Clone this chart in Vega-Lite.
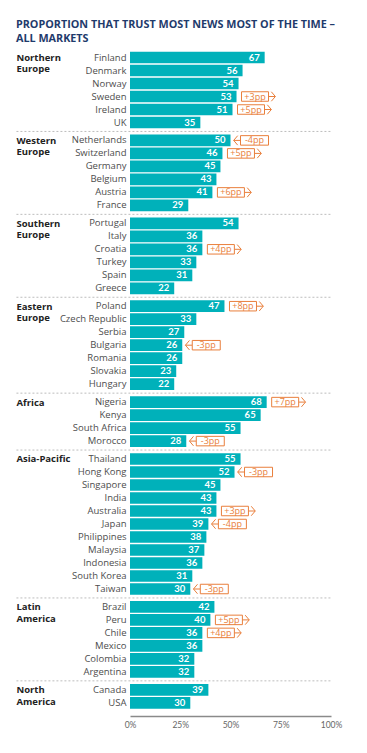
{
  "$schema": "https://vega.github.io/schema/vega-lite/v6.json",
  "padding": {"top": 19, "left": 15, "right": 5, "bottom": 5},
  "background": "white",
  "title": {
    "text": ["PROPORTION THAT TRUST MOST NEWS MOST OF THE TIME –", "ALL MARKETS"],
    "anchor": "start",
    "frame": "bounds",
    "font": "Open Sans",
    "fontSize": 10.8,
    "fontWeight": "bold",
    "color": "#1f3b6c",
    "lineHeight": 13.5,
    "offset": 7.5
  },
  "data": {
    "values": [
      {"region": "Northern Europe", "country": "Finland", "value": 67, "change": null},
      {"region": "Northern Europe", "country": "Denmark", "value": 56, "change": null},
      {"region": "Northern Europe", "country": "Norway", "value": 54, "change": null},
      {"region": "Northern Europe", "country": "Sweden", "value": 53, "change": 3},
      {"region": "Northern Europe", "country": "Ireland", "value": 51, "change": 5},
      {"region": "Northern Europe", "country": "UK", "value": 35, "change": null},
      {"region": "Western Europe", "country": "Netherlands", "value": 50, "change": -4},
      {"region": "Western Europe", "country": "Switzerland", "value": 46, "change": 5},
      {"region": "Western Europe", "country": "Germany", "value": 45, "change": null},
      {"region": "Western Europe", "country": "Belgium", "value": 43, "change": null},
      {"region": "Western Europe", "country": "Austria", "value": 41, "change": 6},
      {"region": "Western Europe", "country": "France", "value": 29, "change": null},
      {"region": "Southern Europe", "country": "Portugal", "value": 54, "change": null},
      {"region": "Southern Europe", "country": "Italy", "value": 36, "change": null},
      {"region": "Southern Europe", "country": "Croatia", "value": 36, "change": 4},
      {"region": "Southern Europe", "country": "Turkey", "value": 33, "change": null},
      {"region": "Southern Europe", "country": "Spain", "value": 31, "change": null},
      {"region": "Southern Europe", "country": "Greece", "value": 22, "change": null},
      {"region": "Eastern Europe", "country": "Poland", "value": 47, "change": 8},
      {"region": "Eastern Europe", "country": "Czech Republic", "value": 33, "change": null},
      {"region": "Eastern Europe", "country": "Serbia", "value": 27, "change": null},
      {"region": "Eastern Europe", "country": "Bulgaria", "value": 26, "change": -3},
      {"region": "Eastern Europe", "country": "Romania", "value": 26, "change": null},
      {"region": "Eastern Europe", "country": "Slovakia", "value": 23, "change": null},
      {"region": "Eastern Europe", "country": "Hungary", "value": 22, "change": null},
      {"region": "Africa", "country": "Nigeria", "value": 68, "change": 7},
      {"region": "Africa", "country": "Kenya", "value": 65, "change": null},
      {"region": "Africa", "country": "South Africa", "value": 55, "change": null},
      {"region": "Africa", "country": "Morocco", "value": 28, "change": -3},
      {"region": "Asia-Pacific", "country": "Thailand", "value": 55, "change": null},
      {"region": "Asia-Pacific", "country": "Hong Kong", "value": 52, "change": -3},
      {"region": "Asia-Pacific", "country": "Singapore", "value": 45, "change": null},
      {"region": "Asia-Pacific", "country": "India", "value": 43, "change": null},
      {"region": "Asia-Pacific", "country": "Australia", "value": 43, "change": 3},
      {"region": "Asia-Pacific", "country": "Japan", "value": 39, "change": -4},
      {"region": "Asia-Pacific", "country": "Philippines", "value": 38, "change": null},
      {"region": "Asia-Pacific", "country": "Malaysia", "value": 37, "change": null},
      {"region": "Asia-Pacific", "country": "Indonesia", "value": 36, "change": null},
      {"region": "Asia-Pacific", "country": "South Korea", "value": 31, "change": null},
      {"region": "Asia-Pacific", "country": "Taiwan", "value": 30, "change": -3},
      {"region": "Latin America", "country": "Brazil", "value": 42, "change": null},
      {"region": "Latin America", "country": "Peru", "value": 40, "change": 5},
      {"region": "Latin America", "country": "Chile", "value": 36, "change": 4},
      {"region": "Latin America", "country": "Mexico", "value": 36, "change": null},
      {"region": "Latin America", "country": "Colombia", "value": 32, "change": null},
      {"region": "Latin America", "country": "Argentina", "value": 32, "change": null},
      {"region": "North America", "country": "Canada", "value": 39, "change": null},
      {"region": "North America", "country": "USA", "value": 30, "change": null}
    ]
  },
  "facet": {
    "row": {
      "field": "region",
      "type": "nominal",
      "sort": ["Northern Europe", "Western Europe", "Southern Europe", "Eastern Europe", "Africa", "Asia-Pacific", "Latin America", "North America"],
      "header": {"labels": false, "title": null}
    }
  },
  "spacing": 4.9,
  "bounds": "flush",
  "resolve": {"scale": {"y": "independent"}},
  "spec": {
    "width": 201,
    "height": {"step": 13.0},
    "encoding": {
      "y": {
        "field": "country",
        "type": "nominal",
        "sort": null,
        "title": null,
        "scale": {"paddingInner": 0.1, "paddingOuter": 0.05},
        "axis": {
          "domain": false,
          "ticks": false,
          "labelFont": "Open Sans",
          "labelFontSize": 9.5,
          "labelColor": "#4d4d4d",
          "labelPadding": 4,
          "labelLimit": 0
        }
      }
    },
    "layer": [
      {
        "mark": {"type": "bar", "color": "#00b1ba"},
        "encoding": {
          "x": {
            "field": "value",
            "type": "quantitative",
            "scale": {"domain": [0, 100], "nice": false},
            "axis": {
              "values": [0, 25, 50, 75, 100],
              "labelExpr": "datum.value + '%'",
              "title": null,
              "grid": false,
              "ticks": false,
              "labelFlush": false,
              "domainColor": "#8a8a8a",
              "domainWidth": 1.5,
              "labelColor": "#666666",
              "labelFont": "Lato",
              "labelFontSize": 8.5,
              "labelPadding": 4,
              "offset": 6
            }
          }
        }
      },
      {
        "mark": {"type": "text", "align": "right", "baseline": "middle", "dx": -5, "color": "white", "font": "Lato", "fontWeight": "bold", "fontSize": 9.5},
        "encoding": {
          "x": {"field": "value", "type": "quantitative"},
          "text": {"field": "value", "type": "quantitative"}
        }
      },
      {
        "transform": [
          {"window": [{"op": "row_number", "as": "rn"}], "groupby": ["region"]},
          {"filter": "datum.rn == 1 && datum.region != 'Northern Europe'"}
        ],
        "mark": {"type": "rule", "color": "#bdbdbd", "strokeDash": [2, 2], "strokeWidth": 1, "yOffset": -3.1},
        "encoding": {
          "y": {"field": "country", "type": "nominal", "sort": null, "bandPosition": 0},
          "x": {"datum": -56.5},
          "x2": {"datum": 100.7}
        }
      },
      {
        "transform": [
          {"window": [{"op": "row_number", "as": "rn"}], "groupby": ["region"]},
          {"filter": "datum.rn == 1"}
        ],
        "mark": {"type": "text", "align": "left", "baseline": "alphabetic", "yOffset": 3.4, "lineBreak": " ", "lineHeight": 11.5, "font": "Open Sans", "fontWeight": "bold", "fontSize": 9.5, "color": "#222222"},
        "encoding": {
          "x": {"datum": -56.5},
          "text": {"field": "region", "type": "nominal"}
        }
      },
      {
        "transform": [
          {"filter": "datum.change != null && datum.change > 0"},
          {"calculate": "'+' + datum.change + 'pp'", "as": "label"}
        ],
        "layer": [
          {
            "mark": {"type": "bar", "fill": "white", "stroke": "#e97f3c", "strokeWidth": 1, "size": 9.5, "xOffset": 5, "x2Offset": 32},
            "encoding": {
              "x": {"field": "value", "type": "quantitative"},
              "x2": {"field": "value"}
            }
          },
          {
            "mark": {"type": "text", "align": "center", "baseline": "middle", "xOffset": 18.5, "color": "#e97f3c", "font": "Open Sans", "fontSize": 9},
            "encoding": {
              "x": {"field": "value", "type": "quantitative"},
              "text": {"field": "label", "type": "nominal"}
            }
          },
          {
            "mark": {"type": "point", "shape": "M -0.7 0 L 0.7 0 M -0.15 -1 L 0.7 0 L -0.15 1", "filled": false, "stroke": "#e97f3c", "strokeWidth": 1, "size": 90, "xOffset": 35.5, "opacity": 1},
            "encoding": {
              "x": {"field": "value", "type": "quantitative"}
            }
          }
        ]
      },
      {
        "transform": [
          {"filter": "datum.change != null && datum.change < 0"},
          {"calculate": "datum.change + 'pp'", "as": "label"}
        ],
        "layer": [
          {
            "mark": {"type": "bar", "fill": "white", "stroke": "#e97f3c", "strokeWidth": 1, "size": 9.5, "xOffset": 10, "x2Offset": 38},
            "encoding": {
              "x": {"field": "value", "type": "quantitative"},
              "x2": {"field": "value"}
            }
          },
          {
            "mark": {"type": "text", "align": "center", "baseline": "middle", "xOffset": 24, "color": "#e97f3c", "font": "Open Sans", "fontSize": 9},
            "encoding": {
              "x": {"field": "value", "type": "quantitative"},
              "text": {"field": "label", "type": "nominal"}
            }
          },
          {
            "mark": {"type": "point", "shape": "M 0.7 0 L -0.7 0 M 0.15 -1 L -0.7 0 L 0.15 1", "filled": false, "stroke": "#e97f3c", "strokeWidth": 1, "size": 90, "xOffset": 6.5, "opacity": 1},
            "encoding": {
              "x": {"field": "value", "type": "quantitative"}
            }
          }
        ]
      }
    ]
  },
  "config": {
    "view": {"stroke": null}
  }
}
